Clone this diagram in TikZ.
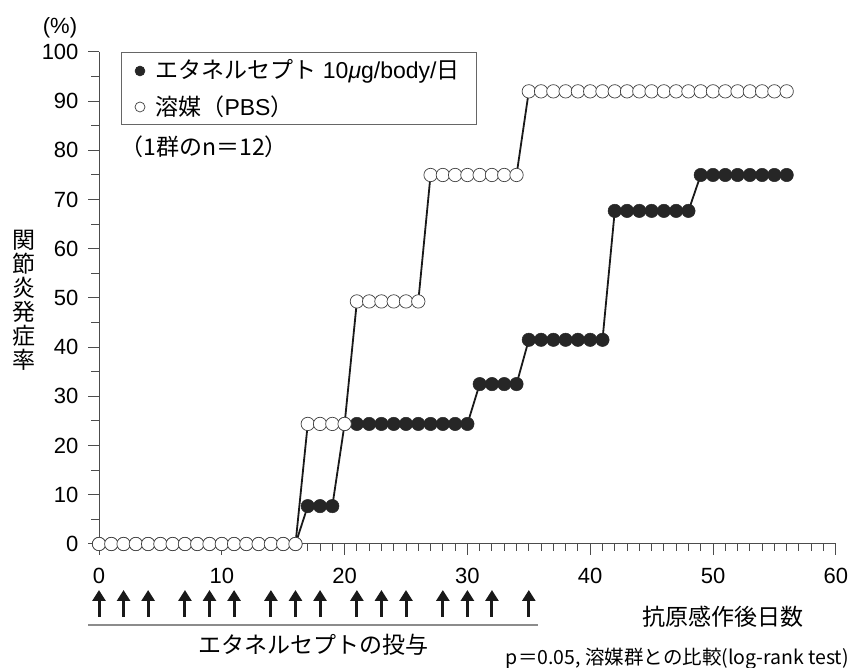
\documentclass[tikz,border=0pt]{standalone}
\usepackage{fontspec}
\setmainfont{Liberation Sans}
\newfontfamily\jp{Noto Sans CJK JP}
\newcommand{\jps}{\jp\fontsize{23}{24}\selectfont}
\usetikzlibrary{arrows.meta,positioning}

\tikzset{
  fdot/.style={circle,draw=black!85,fill=black!85,line width=0.5pt,inner sep=0pt,minimum size=13.4pt},
  odot/.style={circle,draw=black!75,fill=white,line width=0.7pt,inner sep=0pt,minimum size=13.4pt},
  dataline/.style={line width=1.8pt,black!90},
  axisline/.style={line width=1pt,black!70},
  lbl/.style={font=\fontsize{22}{24}\selectfont},
  jlbl/.style={font=\jps},
  doseup/.style={line width=3pt,-{Triangle[width=13pt,length=11pt]},black!90}
}

\begin{document}
\begin{tikzpicture}[x=1pt,y=1pt]
  \useasboundingbox (0,0) rectangle (852,668);

  \node[lbl] (pct) at (60,640) {(\%)};
  \node[jlbl,align=center] (ylab) at (24,368) {関\\節\\炎\\発\\症\\率};

  \begin{scope}[shift={(99,124)},x=12.28pt,y=4.92pt]
    % axes
    \draw[axisline] (0,100) -- (0,0) -- (60,0);
    \foreach \y in {5,15,...,95} \draw[axisline] (0,\y) -- ++(-8pt,0);
    \foreach \y in {0,10,...,100} {
      \draw[axisline] (0,\y) -- ++(-11pt,0);
      \node[lbl,anchor=east] (yt\y) at ([xshift=-17pt]0,\y) {\y};
    }
    \foreach \x in {1,...,60} \draw[axisline] (\x,0) -- ++(0,-7pt);
    \foreach \x in {0,10,...,60} {
      \draw[axisline] (\x,0) -- ++(0,-11pt);
      \node[lbl] (xt\x) at ([yshift=-32pt]\x,0) {\x};
    }

    % data
    \foreach \da/\db/\lv in {0/16/0,17/19/7.7,20/30/24.4,31/34/32.5,35/41/41.5,42/48/67.7,49/56/75}
      \foreach \d in {\da,...,\db} \coordinate (e\d) at (\d,\lv);
    \foreach \da/\db/\lv in {0/16/0,17/20/24.4,21/26/49.3,27/34/75,35/56/92}
      \foreach \d in {\da,...,\db} \coordinate (p\d) at (\d,\lv);
    \draw[dataline] (e0) \foreach \d in {1,...,56} {-- (e\d)};
    \draw[dataline] (p0) \foreach \d in {1,...,56} {-- (p\d)};
    \foreach \d in {0,...,56} \node[fdot] (ed\d) at (e\d) {};
    \foreach \d in {0,...,56} \node[odot] (pd\d) at (p\d) {};

    % dosing days
    \foreach \d in {0,2,4,7,9,11,14,16,18,21,23,25,28,30,32,35}
      \draw[doseup] ([yshift=-73pt]\d,0) -- ([yshift=-46pt]\d,0);
  \end{scope}

  \coordinate (dl) at (88,43);
  \coordinate (dr) at (538,43);
  \draw[line width=1.5pt,black!45] (dl) -- (dr);
  \node[jlbl] (dose) at (313,23) {エタネルセプトの投与};
  \node[jlbl] (xlab) at (723,51) {抗原感作後日数};

  % legend
  \draw[black!60,line width=0.7pt] (121,616) rectangle (476,544);
  \node[fdot,minimum size=10pt] (lgf) at (140,597) {};
  \node[anchor=west,font=\fontsize{23}{24}\selectfont] (lgft) at (152,597) {{\jps エタネルセプト} 10\textit{μ}g/body/{\jps 日}};
  \node[odot,minimum size=10pt] (lgo) at (140,561) {};
  \node[anchor=west,font=\fontsize{23}{24}\selectfont] (lgot) at (152,561) {{\jps 溶媒（}PBS{\jps ）}};
  \node[jlbl,anchor=west] (nnote) at (117,521) {（1群のn＝12）};

  \node[anchor=east,inner sep=1pt] (pnote) at (850,9) {\jp\fontsize{19.5}{20}\selectfont p＝0.05, 溶媒群との比較(log-rank test)};
\end{tikzpicture}
\end{document}
